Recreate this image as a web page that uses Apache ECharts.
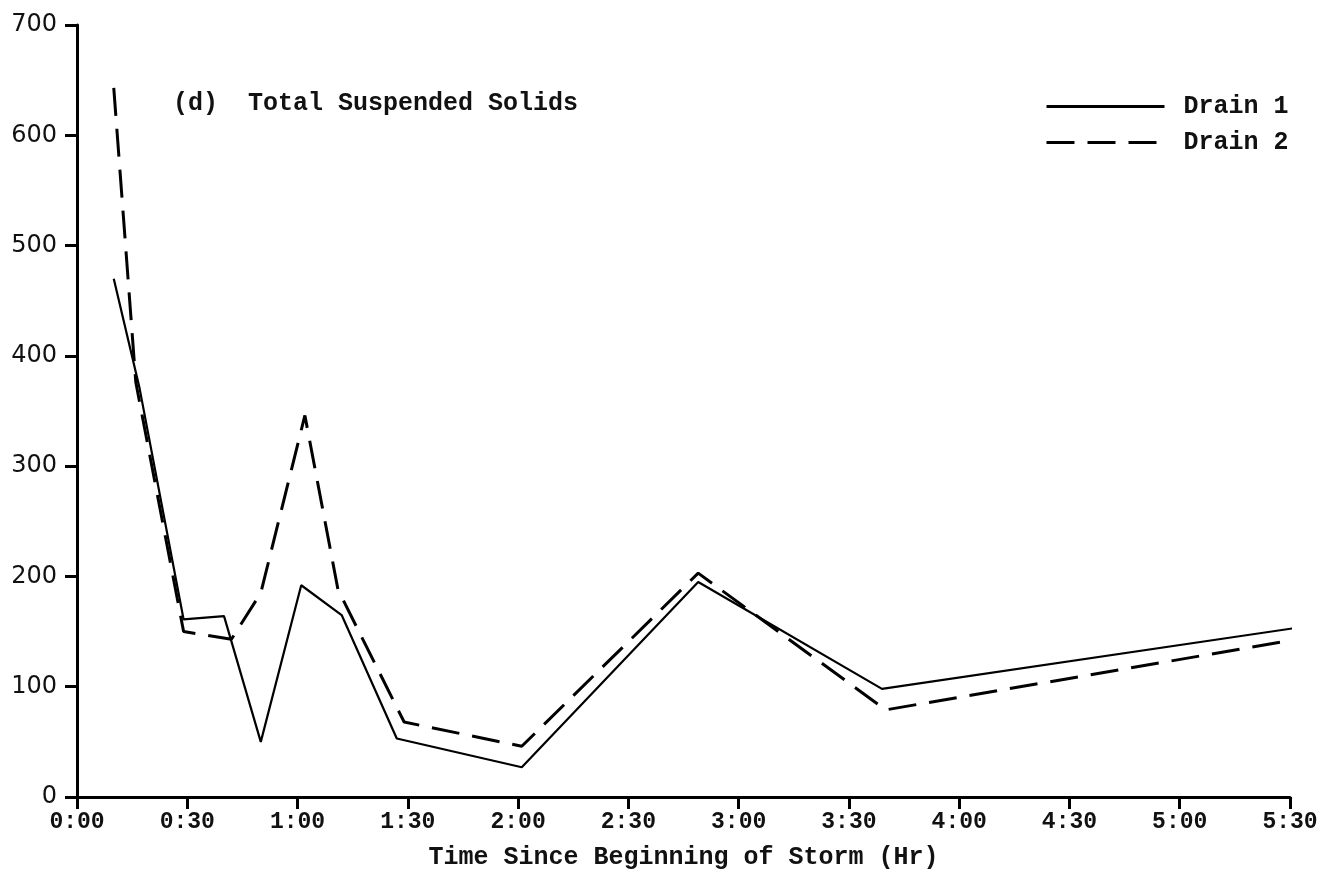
<!DOCTYPE html>
<html>
<head>
<meta charset="utf-8">
<script src="https://cdn.jsdelivr.net/npm/echarts@6/dist/echarts.min.js"></script>
<style>html,body{margin:0;padding:0;background:#fff;}#c{width:1327px;height:877px;}</style>
</head>
<body>
<div id="c"></div>
<script>
// Time in minutes since beginning of storm, TSS value
const drain1Times = [10, 17, 29, 40, 50, 61, 72, 87, 121, 169, 219, 331];
const drain1Values = [470, 371, 161, 164, 50, 192, 165, 53, 27, 195, 98, 153];
const drain2Times = [10, 16, 29, 42, 50, 62, 71, 89, 121, 169, 220, 332];
const drain2Values = [643, 376, 150, 143, 185, 346, 188, 68, 46, 203, 79, 143];
const yTicks = [0, 100, 200, 300, 400, 500, 600, 700];
const xTickMinutes = [0, 30, 60, 90, 120, 150, 180, 210, 240, 270, 300, 330];
const titleText = '(d)  Total Suspended Solids';
const xName = 'Time Since Beginning of Storm (Hr)';
const seriesNames = ['Drain 1', 'Drain 2'];

function fmt(m) {
  const h = Math.floor(m / 60), mm = m % 60;
  return h + ':' + (mm < 10 ? '0' : '') + mm;
}
const mono = 'Liberation Mono';
const chart = echarts.init(document.getElementById('c'));
chart.setOption({
  backgroundColor: '#fff',
  animation: false,
  title: {
    text: titleText, left: 168, top: 86,
    textStyle: { fontFamily: mono, fontSize: 25, fontWeight: 'bold', color: '#111' }
  },
  legend: {
    orient: 'vertical', left: 1040, top: 89,
    itemWidth: 118, itemHeight: 22, itemGap: 11,
    data: seriesNames,
    itemStyle: { opacity: 0 },
    lineStyle: { width: 3 },
    textStyle: { fontFamily: mono, fontSize: 25, fontWeight: 'bold', color: '#111', padding: [0, 0, 0, 14] }
  },
  grid: { left: 77, right: 37, top: 25, bottom: 80 },
  xAxis: {
    type: 'value', min: 0, max: 330, interval: 30,
    name: xName, nameLocation: 'middle', nameGap: 48,
    nameTextStyle: { fontFamily: mono, fontSize: 25, fontWeight: 'bold', color: '#111' },
    axisLine: { show: true, onZero: false, lineStyle: { color: '#000', width: 3 } },
    axisTick: { show: true, length: 12, lineStyle: { color: '#000', width: 3 } },
    axisLabel: {
      margin: 14, fontFamily: mono, fontSize: 23, fontWeight: 'bold', color: '#111',
      formatter: v => xTickMinutes.indexOf(v) >= 0 ? fmt(v) : ''
    },
    splitLine: { show: false }
  },
  yAxis: {
    type: 'value', min: 0, max: 700, interval: 100,
    axisLine: { show: true, lineStyle: { color: '#000', width: 3 } },
    axisTick: { show: true, length: 12, lineStyle: { color: '#000', width: 3 } },
    axisLabel: {
      margin: 20, fontFamily: 'DejaVu Sans', fontSize: 24, color: '#111',
      formatter: v => yTicks.indexOf(v) >= 0 ? String(v) : ''
    },
    splitLine: { show: false }
  },
  series: [
    {
      name: seriesNames[0], type: 'line', symbol: 'none', clip: false,
      data: drain1Times.map((t, i) => [t, drain1Values[i]]),
      lineStyle: { color: '#000', width: 2.2, type: 'solid' },
      itemStyle: { color: '#000' }
    },
    {
      name: seriesNames[1], type: 'line', symbol: 'none', clip: false,
      data: drain2Times.map((t, i) => [t, drain2Values[i]]),
      lineStyle: { color: '#000', width: 3, type: [28, 13] },
      itemStyle: { color: '#000' }
    }
  ]
});
</script>
</body>
</html>
